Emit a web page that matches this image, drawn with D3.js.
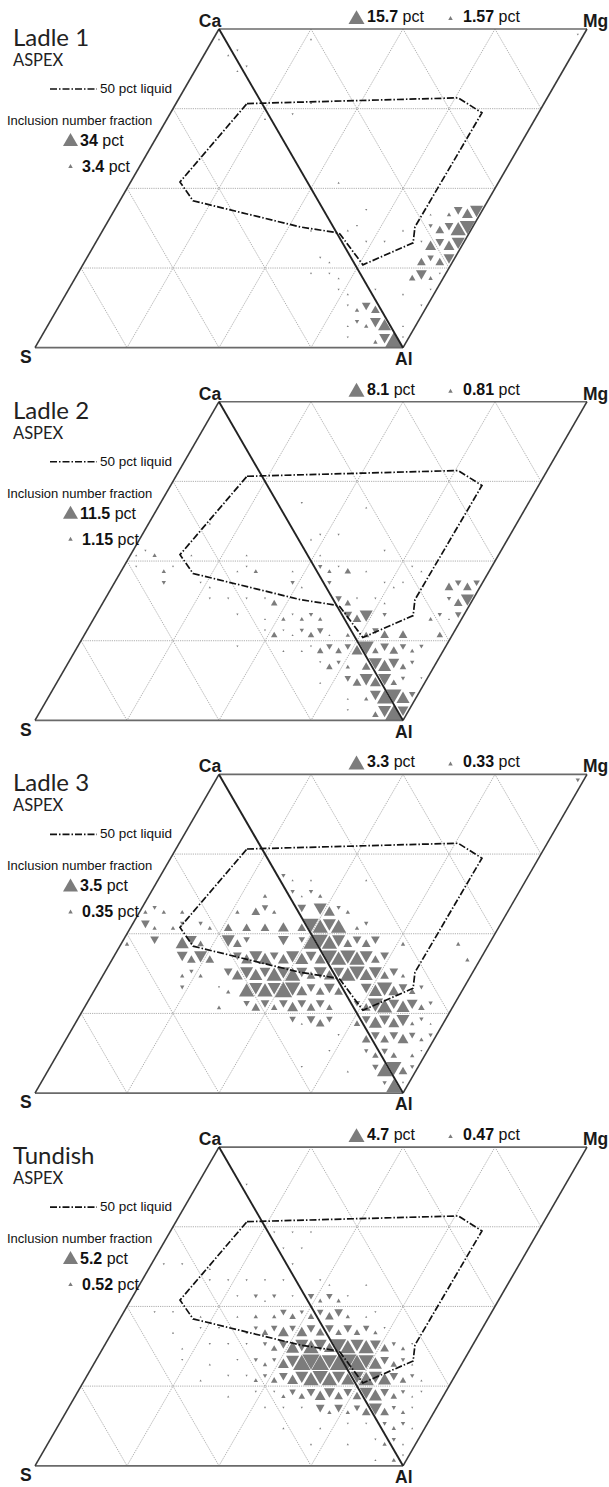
<!DOCTYPE html>
<html>
<head>
<meta charset="utf-8">
<script src="https://cdn.jsdelivr.net/npm/d3@7"></script>
<style>
body { margin: 0; background: #fff; }
svg { display: block; }
text { font-family: "Liberation Sans", Arial, sans-serif; fill: #111; }
</style>
</head>
<body>
<svg width="609" height="1487"></svg>
<script>
// panel texts
var panelNames = ['Ladle 1', 'Ladle 2', 'Ladle 3', 'Tundish'];
var leftBig = ['34', '11.5', '3.5', '5.2'];
var leftSmall = ['3.4', '1.15', '0.35', '0.52'];
var topBig = ['15.7', '8.1', '3.3', '4.7'];
var topSmall = ['1.57', '0.81', '0.33', '0.47'];

// 50 pct liquid boundary, [s, t] inside the Ca-Mg-Al-S rhombus
var liquid = [[0.193, 0.234], [0.758, 0.216], [0.846, 0.263], [0.843, 0.621], [0.863, 0.671],
  [0.761, 0.740], [0.650, 0.643], [0.634, 0.638], [0.531, 0.621], [0.199, 0.539], [0.134, 0.480]];

// cells of the 20-step lattice: [row, col, size class 1-9]
// even col = upward cell, odd col = downward cell; col <= 2*row lies in Ca-S-Al
var ladle1 = [
  [0, 0, 1], [0, 10, 1], [0, 39, 1], [1, 2, 1], [1, 3, 1], [2, 4, 1], [2, 5, 1], [4, 14, 1],
  [5, 10, 1], [5, 13, 1], [9, 22, 1],
  [11, 27, 1], [11, 34, 1], [11, 36, 2], [11, 37, 4], [11, 38, 5], [11, 39, 6],
  [12, 22, 1], [12, 26, 1], [12, 27, 1], [12, 32, 1], [12, 35, 2], [12, 36, 4], [12, 37, 4], [12, 38, 7], [12, 39, 7],
  [13, 29, 1], [13, 31, 1], [13, 35, 1], [13, 36, 5], [13, 37, 4], [13, 38, 5], [13, 39, 6],
  [14, 25, 1], [14, 26, 1], [14, 36, 4], [14, 37, 3], [14, 38, 4], [14, 39, 5],
  [15, 25, 1], [15, 27, 1], [15, 28, 1], [15, 36, 3], [15, 37, 5], [15, 38, 2], [15, 39, 1],
  [16, 29, 1], [16, 30, 1], [16, 33, 1], [16, 36, 1], [16, 39, 1],
  [17, 31, 1], [17, 32, 2], [17, 33, 4], [17, 34, 4], [17, 39, 1],
  [18, 32, 1], [18, 33, 2], [18, 34, 2], [18, 35, 5], [18, 36, 6], [18, 38, 1],
  [19, 33, 1], [19, 36, 2], [19, 37, 5], [19, 38, 8], [19, 39, 1]
];

var ladle2 = [
  [6, 15, 1], [6, 22, 1], [7, 6, 1], [8, 18, 1], [8, 19, 1], [8, 21, 1],
  [9, 0, 1], [9, 1, 1], [9, 2, 2], [9, 6, 1], [9, 12, 1], [9, 20, 1], [9, 27, 1],
  [10, 1, 1], [10, 4, 2], [10, 5, 1], [10, 12, 1], [10, 13, 1], [10, 14, 2], [10, 18, 1], [10, 21, 2], [10, 22, 2],
  [10, 23, 1], [10, 24, 3], [10, 26, 1], [10, 31, 1], [10, 32, 1],
  [11, 5, 2], [11, 9, 1], [11, 10, 1], [11, 19, 2], [11, 20, 1], [11, 23, 2], [11, 29, 1], [11, 30, 1], [11, 31, 1],
  [11, 36, 4], [11, 37, 3], [11, 38, 4], [11, 39, 3],
  [12, 11, 1], [12, 13, 1], [12, 15, 1], [12, 17, 1], [12, 18, 3], [12, 25, 3], [12, 26, 3], [12, 27, 1], [12, 29, 1],
  [12, 30, 1], [12, 37, 2], [12, 38, 4], [12, 39, 6],
  [13, 15, 1], [13, 18, 1], [13, 20, 2], [13, 21, 1], [13, 22, 2], [13, 23, 2], [13, 24, 2], [13, 27, 4], [13, 28, 4],
  [13, 29, 6], [13, 31, 2], [13, 36, 2], [13, 37, 2], [13, 38, 1], [13, 39, 3],
  [14, 19, 1], [14, 20, 3], [14, 21, 1], [14, 22, 1], [14, 23, 2], [14, 24, 3], [14, 25, 3], [14, 26, 1], [14, 28, 2],
  [14, 29, 1], [14, 30, 3], [14, 31, 3], [14, 32, 4], [14, 34, 4], [14, 38, 3],
  [15, 17, 1], [15, 22, 1], [15, 24, 1], [15, 25, 1], [15, 26, 3], [15, 27, 3], [15, 28, 3], [15, 29, 3], [15, 30, 5],
  [15, 31, 7], [15, 32, 3], [15, 33, 4], [15, 34, 4], [15, 35, 3], [15, 36, 2], [15, 37, 2],
  [16, 27, 1], [16, 28, 3], [16, 29, 2], [16, 30, 2], [16, 32, 4], [16, 33, 6], [16, 34, 6], [16, 35, 5], [16, 36, 3], [16, 37, 2],
  [17, 28, 1], [17, 31, 3], [17, 32, 4], [17, 33, 6], [17, 34, 5], [17, 35, 6], [17, 36, 3], [17, 37, 2], [17, 39, 1],
  [18, 32, 1], [18, 34, 2], [18, 35, 5], [18, 36, 7], [18, 37, 7], [18, 38, 6], [18, 39, 3],
  [19, 33, 1], [19, 36, 3], [19, 37, 6], [19, 38, 9], [19, 39, 5]
];

var ladle3 = [
  [0, 39, 2],
  [6, 13, 2], [6, 14, 1], [6, 16, 1], [6, 22, 1],
  [7, 12, 2], [7, 15, 2], [7, 16, 1], [7, 17, 2], [7, 18, 2],
  [8, 0, 2], [8, 1, 2], [8, 2, 2], [8, 4, 2], [8, 10, 2], [8, 12, 4], [8, 13, 3], [8, 14, 2], [8, 17, 4], [8, 19, 6],
  [8, 20, 5], [8, 21, 2], [8, 22, 2],
  [9, 1, 4], [9, 2, 2], [9, 4, 2], [9, 5, 2], [9, 7, 2], [9, 8, 2], [9, 10, 4], [9, 12, 4], [9, 14, 4], [9, 16, 5],
  [9, 18, 4], [9, 19, 7], [9, 20, 7], [9, 21, 6], [9, 22, 7], [9, 24, 2], [9, 25, 2],
  [10, 0, 2], [10, 3, 4], [10, 6, 6], [10, 7, 5], [10, 8, 3], [10, 11, 6], [10, 12, 4], [10, 13, 3], [10, 17, 5],
  [10, 19, 3], [10, 20, 7], [10, 21, 7], [10, 22, 7], [10, 23, 6], [10, 24, 4], [10, 25, 4], [10, 26, 4], [10, 27, 4],
  [10, 30, 2], [10, 36, 2],
  [11, 7, 5], [11, 8, 4], [11, 9, 6], [11, 10, 4], [11, 13, 4], [11, 14, 5], [11, 15, 6], [11, 16, 6], [11, 17, 4],
  [11, 18, 5], [11, 19, 6], [11, 20, 6], [11, 21, 5], [11, 22, 5], [11, 23, 7], [11, 24, 7], [11, 25, 7], [11, 26, 7],
  [11, 27, 6], [11, 28, 4], [11, 29, 4], [11, 38, 2],
  [12, 8, 2], [12, 9, 2], [12, 10, 2], [12, 13, 4], [12, 14, 5], [12, 15, 6], [12, 16, 6], [12, 17, 5], [12, 18, 7],
  [12, 19, 6], [12, 20, 7], [12, 21, 5], [12, 22, 4], [12, 23, 6], [12, 24, 5], [12, 25, 5], [12, 26, 7], [12, 27, 7],
  [12, 28, 6], [12, 29, 6], [12, 30, 4], [12, 31, 4], [12, 32, 2],
  [13, 9, 2], [13, 13, 1], [13, 14, 2], [13, 16, 7], [13, 17, 6], [13, 18, 7], [13, 19, 6], [13, 20, 8], [13, 21, 7],
  [13, 22, 5], [13, 23, 4], [13, 24, 4], [13, 25, 5], [13, 26, 4], [13, 29, 5], [13, 30, 6], [13, 31, 7], [13, 32, 5],
  [13, 33, 4], [13, 34, 3], [13, 35, 2],
  [14, 14, 2], [14, 17, 3], [14, 18, 4], [14, 19, 4], [14, 20, 3], [14, 21, 4], [14, 22, 5], [14, 23, 4], [14, 24, 4],
  [14, 25, 4], [14, 26, 3], [14, 29, 3], [14, 30, 4], [14, 31, 7], [14, 32, 7], [14, 33, 5], [14, 34, 6], [14, 35, 5],
  [14, 36, 3], [14, 37, 2],
  [15, 23, 3], [15, 24, 1], [15, 25, 4], [15, 26, 4], [15, 27, 3], [15, 30, 3], [15, 31, 4], [15, 32, 6], [15, 33, 5],
  [15, 34, 5], [15, 35, 6], [15, 36, 2], [15, 37, 2], [15, 38, 1],
  [16, 29, 1], [16, 32, 4], [16, 33, 4], [16, 34, 4], [16, 35, 4], [16, 36, 5], [16, 37, 3], [16, 38, 2], [16, 39, 2],
  [17, 29, 1], [17, 33, 2], [17, 34, 3], [17, 35, 3], [17, 36, 3], [17, 38, 2], [17, 39, 1],
  [18, 27, 1], [18, 32, 1], [18, 35, 3], [18, 36, 7], [18, 37, 7], [18, 38, 4], [18, 39, 2],
  [19, 37, 2], [19, 38, 7], [19, 39, 1]
];

var tundish = [
  [2, 5, 1], [5, 11, 1], [5, 13, 1], [5, 15, 1], [6, 13, 1], [6, 15, 1],
  [7, 1, 1], [7, 3, 1], [7, 6, 1], [7, 15, 1],
  [8, 7, 1], [8, 9, 1], [8, 11, 1], [8, 13, 1], [8, 15, 1], [8, 19, 1], [8, 20, 1], [8, 24, 1],
  [9, 11, 1], [9, 13, 2], [9, 14, 1], [9, 15, 2], [9, 17, 1], [9, 19, 3], [9, 20, 2], [9, 21, 3], [9, 22, 2], [9, 23, 1],
  [10, 3, 1], [10, 5, 1], [10, 8, 1], [10, 12, 1], [10, 14, 2], [10, 16, 2], [10, 17, 3], [10, 18, 3], [10, 19, 2],
  [10, 20, 3], [10, 21, 3], [10, 22, 4], [10, 23, 4], [10, 24, 2], [10, 26, 1], [10, 27, 1],
  [11, 6, 1], [11, 9, 1], [11, 11, 1], [11, 14, 1], [11, 15, 2], [11, 16, 3], [11, 17, 3], [11, 18, 5], [11, 19, 3],
  [11, 20, 5], [11, 21, 4], [11, 22, 4], [11, 23, 4], [11, 24, 3], [11, 25, 4], [11, 26, 3], [11, 27, 3], [11, 28, 2], [11, 29, 1],
  [12, 8, 1], [12, 11, 1], [12, 13, 1], [12, 15, 1], [12, 17, 2], [12, 18, 3], [12, 19, 4], [12, 20, 6], [12, 21, 6],
  [12, 22, 7], [12, 23, 6], [12, 24, 5], [12, 25, 7], [12, 26, 7], [12, 27, 6], [12, 28, 7], [12, 29, 5], [12, 30, 4],
  [12, 31, 2], [12, 32, 2], [12, 33, 1],
  [13, 9, 1], [13, 12, 1], [13, 15, 1], [13, 17, 2], [13, 18, 2], [13, 19, 2], [13, 20, 5], [13, 21, 6], [13, 22, 8],
  [13, 23, 8], [13, 24, 8], [13, 25, 7], [13, 26, 8], [13, 27, 8], [13, 28, 8], [13, 29, 7], [13, 30, 6], [13, 31, 4],
  [13, 32, 3], [13, 33, 2], [13, 34, 1],
  [14, 12, 1], [14, 15, 1], [14, 17, 1], [14, 18, 2], [14, 19, 2], [14, 20, 3], [14, 21, 4], [14, 22, 5], [14, 23, 6],
  [14, 24, 7], [14, 25, 7], [14, 26, 7], [14, 27, 6], [14, 28, 6], [14, 29, 6], [14, 30, 7], [14, 31, 6], [14, 32, 6],
  [14, 33, 4], [14, 34, 3], [14, 35, 2], [14, 36, 1],
  [15, 16, 1], [15, 19, 1], [15, 21, 1], [15, 22, 2], [15, 23, 3], [15, 24, 3], [15, 25, 4], [15, 26, 5], [15, 27, 5],
  [15, 28, 4], [15, 29, 4], [15, 30, 4], [15, 31, 6], [15, 32, 6], [15, 33, 4], [15, 34, 3], [15, 35, 2], [15, 36, 1], [15, 37, 1],
  [16, 21, 1], [16, 23, 1], [16, 25, 1], [16, 27, 4], [16, 28, 2], [16, 29, 4], [16, 30, 2], [16, 31, 3], [16, 32, 4],
  [16, 33, 6], [16, 34, 4], [16, 35, 2], [16, 36, 2], [16, 37, 1],
  [17, 24, 1], [17, 28, 1], [17, 31, 1], [17, 33, 1], [17, 35, 2], [17, 36, 2], [17, 37, 2], [17, 38, 1],
  [18, 28, 1], [18, 32, 1], [18, 35, 1], [18, 36, 2], [18, 37, 2], [18, 38, 1],
  [19, 36, 1], [19, 38, 2], [19, 39, 1]
];

var panels = [ladle1, ladle2, ladle3, tundish];

var svg = d3.select('svg');
var n = 20, side = 368, x0 = 219, y0 = 29, panelStep = 372.7;
var sScale = d3.scaleLinear().domain([0, 1]).range([0, side]);
var tScale = d3.scaleLinear().domain([0, 1]).range([y0, y0 + side * Math.sqrt(3) / 2]);
var markScale = d3.scaleLinear().domain([0, 8]).range([0, 0.95]).clamp(true);
var line = d3.line();
var markColor = '#7c7c7c';
var dashDot = '7,2,1.5,2';

function pt(s, t) {
  return [x0 + sScale(s) - sScale(t) / 2, tScale(t)];
}

// triangle of lattice cell (r, c), shrunk about its centroid by f
function cellTri(r, c, f) {
  var k = Math.floor(c / 2);
  var v = c % 2 === 0 ? [[k, r], [k, r + 1], [k + 1, r + 1]] : [[k, r], [k + 1, r], [k + 1, r + 1]];
  v = v.map(function (p) { return pt(p[0] / n, p[1] / n); });
  var cx = d3.mean(v, function (p) { return p[0]; });
  var cy = d3.mean(v, function (p) { return p[1]; });
  return v.map(function (p) { return [cx + (p[0] - cx) * f, cy + (p[1] - cy) * f]; });
}

function upTri(x, y, s) {
  var h = s * Math.sqrt(3) / 2;
  return line([[x - s / 2, y], [x + s / 2, y], [x, y - h]]) + 'Z';
}

var gridLines = [];
[0.25, 0.5, 0.75].forEach(function (k) {
  gridLines.push([[0, k], [1, k]]);
  gridLines.push([[k, 0], [k, 1]]);
  gridLines.push([[k, 0], [1, 1 - k]]);
  gridLines.push([[0, k], [1 - k, 1]]);
});

panels.forEach(function (data, i) {
  var g = svg.append('g').attr('transform', 'translate(0,' + (i * panelStep) + ')');

  g.append('g')
    .selectAll('path')
    .data(gridLines)
    .enter()
    .append('path')
    .attr('d', function (d) { return line(d.map(function (p) { return pt(p[0], p[1]); })); })
    .attr('fill', 'none')
    .attr('stroke', '#9a9a9a')
    .attr('stroke-width', 0.8)
    .attr('stroke-dasharray', '1.2,1');

  g.append('g')
    .selectAll('path')
    .data(data)
    .enter()
    .append('path')
    .attr('d', function (d) { return line(cellTri(d[0], d[1], markScale(d[2]))) + 'Z'; })
    .attr('fill', markColor);

  // rhombus outline
  g.append('path')
    .attr('d', line([pt(0, 0), pt(1, 0)]))
    .attr('stroke', '#6a6a6a').attr('stroke-width', 1.6).attr('fill', 'none');
  g.append('path')
    .attr('d', line([pt(0, 1), pt(1, 1)]))
    .attr('stroke', '#6a6a6a').attr('stroke-width', 1.8).attr('fill', 'none');
  g.append('path')
    .attr('d', line([pt(0, 0), pt(0, 1)]))
    .attr('stroke', '#3a3a3a').attr('stroke-width', 1.6).attr('fill', 'none');
  g.append('path')
    .attr('d', line([pt(1, 0), pt(1, 1)]))
    .attr('stroke', '#3a3a3a').attr('stroke-width', 1.6).attr('fill', 'none');
  g.append('path')
    .attr('d', line([pt(0, 0), pt(1, 1)]))
    .attr('stroke', '#222').attr('stroke-width', 1.9).attr('fill', 'none');

  // 50 pct liquid
  g.append('path')
    .attr('d', line(liquid.map(function (p) { return pt(p[0], p[1]); })) + 'Z')
    .attr('fill', 'none')
    .attr('stroke', '#111')
    .attr('stroke-width', 1.7)
    .attr('stroke-dasharray', dashDot);

  // corner labels
  var corner = [['Ca', 210, 27, 'middle'], ['Mg', 583, 27, 'start'], ['S', 20, 363, 'start'], ['Al', 395, 365, 'start']];
  g.selectAll('.corner')
    .data(corner)
    .enter()
    .append('text')
    .attr('class', 'corner')
    .attr('x', function (d) { return d[1]; })
    .attr('y', function (d) { return d[2]; })
    .attr('text-anchor', function (d) { return d[3]; })
    .attr('font-size', 17.5)
    .attr('font-weight', 'bold')
    .style('fill', '#1a1a1a')
    .text(function (d) { return d[0]; });

  // left legend
  g.append('text').attr('x', 13).attr('y', 46).attr('font-size', 24)
    .style('font-family', 'Lato, sans-serif').style('fill', '#222').text(panelNames[i]);
  g.append('text').attr('x', 13).attr('y', 66).attr('font-size', 16.5)
    .style('font-family', 'Lato, sans-serif').style('fill', '#222').text('ASPEX');
  g.append('path').attr('d', line([[50, 89], [97, 89]]))
    .attr('stroke', '#111').attr('stroke-width', 1.6).attr('stroke-dasharray', dashDot);
  g.append('text').attr('x', 100).attr('y', 93).attr('font-size', 13.5).text('50 pct liquid');
  g.append('text').attr('x', 7).attr('y', 125).attr('font-size', 13).text('Inclusion number fraction');

  g.append('path').attr('d', upTri(70.5, 146, 15)).attr('fill', markColor);
  var t1 = g.append('text').attr('x', 80).attr('y', 146).attr('font-size', 16);
  t1.append('tspan').attr('font-weight', 'bold').text(leftBig[i]);
  t1.append('tspan').text(' pct');
  g.append('path').attr('d', upTri(70.5, 168, 4.5)).attr('fill', markColor);
  var t2 = g.append('text').attr('x', 82).attr('y', 172).attr('font-size', 16);
  t2.append('tspan').attr('font-weight', 'bold').text(leftSmall[i]);
  t2.append('tspan').text(' pct');

  // top legend
  g.append('path').attr('d', upTri(356.5, 24, 16)).attr('fill', markColor);
  var t3 = g.append('text').attr('x', 367).attr('y', 22).attr('font-size', 16);
  t3.append('tspan').attr('font-weight', 'bold').text(topBig[i]);
  t3.append('tspan').text(' pct');
  g.append('path').attr('d', upTri(450.5, 20, 4.5)).attr('fill', markColor);
  var t4 = g.append('text').attr('x', 463).attr('y', 22).attr('font-size', 16);
  t4.append('tspan').attr('font-weight', 'bold').text(topSmall[i]);
  t4.append('tspan').text(' pct');
});
</script>
</body>
</html>
